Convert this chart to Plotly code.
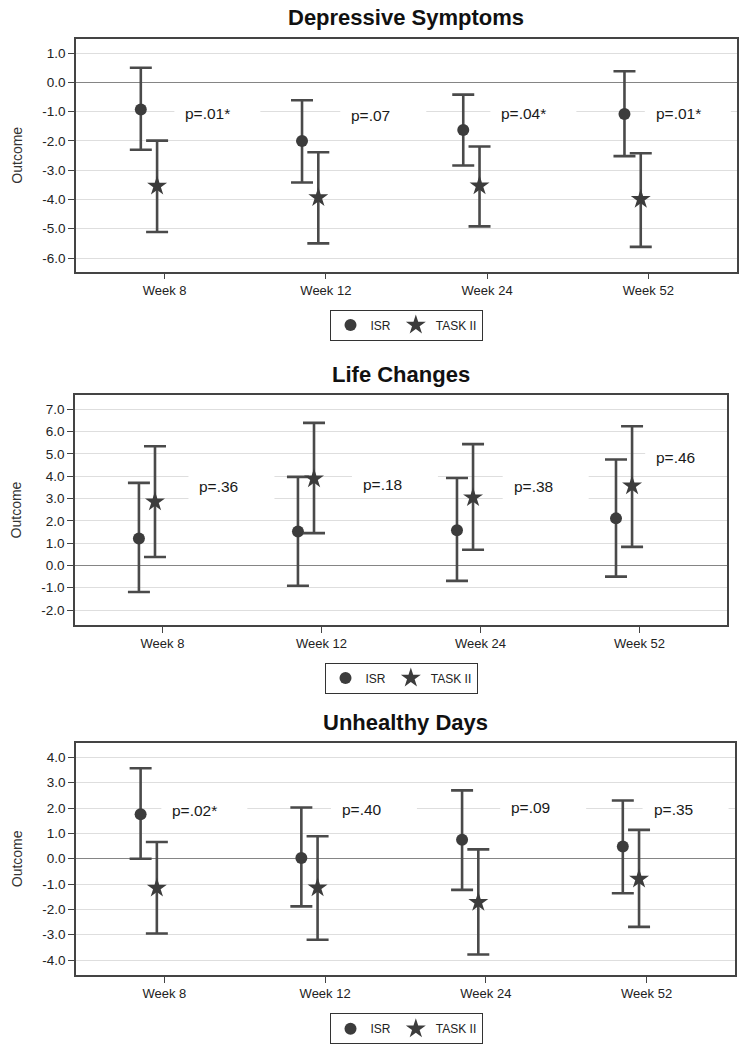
import plotly.graph_objects as go

# ---------------- data ----------------
weeks = ["Week 8", "Week 12", "Week 24", "Week 52"]
groups = ["ISR", "TASK II"]

dep_isr = [-0.93, -2.00, -1.63, -1.08]
dep_isr_lo = [-2.30, -3.42, -2.84, -2.52]
dep_isr_hi = [0.50, -0.61, -0.42, 0.38]
dep_task = [-3.54, -3.93, -3.53, -3.99]
dep_task_lo = [-5.11, -5.50, -4.92, -5.62]
dep_task_hi = [-1.99, -2.39, -2.19, -2.42]
dep_p = ["p=.01*", "p=.07", "p=.04*", "p=.01*"]

life_isr = [1.21, 1.52, 1.58, 2.11]
life_isr_lo = [-1.19, -0.91, -0.69, -0.50]
life_isr_hi = [3.70, 3.97, 3.92, 4.75]
life_task = [2.85, 3.89, 3.04, 3.57]
life_task_lo = [0.38, 1.45, 0.70, 0.83]
life_task_hi = [5.34, 6.39, 5.44, 6.24]
life_p = ["p=.36", "p=.18", "p=.38", "p=.46"]

unh_isr = [1.76, 0.03, 0.75, 0.48]
unh_isr_lo = [0.00, -1.88, -1.23, -1.36]
unh_isr_hi = [3.57, 2.02, 2.70, 2.30]
unh_task = [-1.16, -1.15, -1.72, -0.80]
unh_task_lo = [-2.95, -3.20, -3.78, -2.69]
unh_task_hi = [0.66, 0.89, 0.37, 1.14]
unh_p = ["p=.02*", "p=.40", "p=.09", "p=.35"]

titles = ["Depressive Symptoms", "Life Changes", "Unhealthy Days"]
dep_ticks = [1.0, 0.0, -1.0, -2.0, -3.0, -4.0, -5.0, -6.0]
life_ticks = [7.0, 6.0, 5.0, 4.0, 3.0, 2.0, 1.0, 0.0, -1.0, -2.0]
unh_ticks = [4.0, 3.0, 2.0, 1.0, 0.0, -1.0, -2.0, -3.0, -4.0]

# ---------------- layout config (positions / styles) ----------------
FONT = "Liberation Sans, Arial, sans-serif"
DARK = "#3c3c3c"
GRID = "#dedede"
AXIS = "#444444"
ISR_OFF = -0.148
TASK_OFF = -0.047

panels = [
    dict(isr=dep_isr, isr_lo=dep_isr_lo, isr_hi=dep_isr_hi,
         task=dep_task, task_lo=dep_task_lo, task_hi=dep_task_hi,
         p=dep_p, ticks=dep_ticks,
         xdom=[76 / 745, 737 / 745], ydom=[1 - 271.5 / 1050, 1 - 39 / 1050],
         yrange=[-6.46, 1.48], title_y=1 - 18 / 1050,
         lab_dx=[0.116, 0.145, 0.076, 0.034], lab_y=[-1.07, -1.12, -1.08, -1.05],
         leg_x=406 / 745, leg_y=1 - 325 / 1050),
    dict(isr=life_isr, isr_lo=life_isr_lo, isr_hi=life_isr_hi,
         task=life_task, task_lo=life_task_lo, task_hi=life_task_hi,
         p=life_p, ticks=life_ticks,
         xdom=[75 / 745, 727 / 745], ydom=[1 - 625 / 1050, 1 - 395 / 1050],
         yrange=[-2.67, 7.64], title_y=1 - 374 / 1050,
         lab_dx=[0.22, 0.248, 0.196, 0.092], lab_y=[3.53, 3.65, 3.56, 4.83],
         leg_x=401 / 745, leg_y=1 - 678 / 1050),
    dict(isr=unh_isr, isr_lo=unh_isr_lo, isr_hi=unh_isr_hi,
         task=unh_task, task_lo=unh_task_lo, task_hi=unh_task_hi,
         p=unh_p, ticks=unh_ticks,
         xdom=[76 / 745, 735 / 745], ydom=[1 - 975 / 1050, 1 - 742.7 / 1050],
         yrange=[-4.59, 4.58], title_y=1 - 722.7 / 1050,
         lab_dx=[0.037, 0.092, 0.145, 0.031], lab_y=[1.92, 1.95, 2.01, 1.96],
         leg_x=406 / 745, leg_y=1 - 1028.7 / 1050),
]

fig = go.Figure()
layout = {}
shapes = []
annotations = []
xpos = list(range(len(weeks)))

for i, pn in enumerate(panels):
    n = "" if i == 0 else str(i + 1)
    xa, ya = "x" + n, "y" + n
    leg = "legend" + n
    for name, vals, lo, hi, off, sym, size in [
        (groups[0], pn["isr"], pn["isr_lo"], pn["isr_hi"], ISR_OFF, "circle", 12),
        (groups[1], pn["task"], pn["task_lo"], pn["task_hi"], TASK_OFF, "star", 15),
    ]:
        fig.add_trace(go.Scatter(
            x=[p + off for p in xpos], y=vals, mode="markers", name=name,
            xaxis=xa, yaxis=ya, legend=leg,
            marker=dict(symbol=sym, size=size, color=DARK, line=dict(width=0)),
            error_y=dict(type="data", symmetric=False,
                         array=[h - v for h, v in zip(hi, vals)],
                         arrayminus=[v - l for v, l in zip(vals, lo)],
                         color="#4a4a4a", thickness=2.6, width=11),
            showlegend=True, hoverinfo="skip",
        ))
    layout["xaxis" + n] = dict(
        domain=pn["xdom"], anchor=ya, range=[-0.55, 3.55],
        tickvals=xpos, ticktext=weeks, showgrid=False, zeroline=False,
        ticks="outside", ticklen=6, tickcolor=AXIS, tickwidth=1,
        showline=True, linecolor=AXIS, linewidth=1.5, mirror=True,
        tickfont=dict(family=FONT, size=13, color="#222"),
    )
    layout["yaxis" + n] = dict(
        domain=pn["ydom"], anchor=xa, range=pn["yrange"],
        tickvals=pn["ticks"], ticktext=[f"{t:.1f}" for t in pn["ticks"]],
        showgrid=True, gridcolor=GRID, gridwidth=1,
        zeroline=True, zerolinecolor="#858585", zerolinewidth=1,
        ticks="outside", ticklen=6, tickcolor=AXIS, tickwidth=1,
        showline=True, linecolor=AXIS, linewidth=1.5, mirror=True,
        tickfont=dict(family=FONT, size=13.5, color="#222"),
        title=dict(text="Outcome", font=dict(family=FONT, size=14, color="#333"),
                   standoff=16),
    )
    layout[leg] = dict(
        orientation="h", x=pn["leg_x"], y=pn["leg_y"], xanchor="center",
        yanchor="middle", bgcolor="white", bordercolor="#333", borderwidth=1,
        font=dict(family=FONT, size=12, color="#222"), itemwidth=30,
        tracegroupgap=0,
    )
    annotations.append(dict(
        text="<b>" + titles[i] + "</b>", xref="paper", yref="paper",
        x=(pn["xdom"][0] + pn["xdom"][1]) / 2, y=pn["title_y"],
        xanchor="center", yanchor="middle", showarrow=False,
        font=dict(family=FONT, size=22, color="#111"),
    ))
    for k, txt in enumerate(pn["p"]):
        xs = xpos[k] + pn["lab_dx"][k]
        shapes.append(dict(
            type="rect", xref=xa, yref=ya, xsizemode="pixel", ysizemode="pixel",
            xanchor=xs, yanchor=pn["lab_y"][k], x0=-9, x1=77, y0=-13, y1=13,
            fillcolor="white", line=dict(width=0), layer="between",
        ))
        annotations.append(dict(
            text=txt, xref=xa, yref=ya, x=xs, y=pn["lab_y"][k],
            xanchor="left", yanchor="middle", showarrow=False,
            font=dict(family=FONT, size=15.5, color="#1a1a1a"),
        ))

fig.update_layout(
    width=745, height=1050, margin=dict(l=0, r=0, t=0, b=0),
    paper_bgcolor="white", plot_bgcolor="white", hovermode=False,
    shapes=shapes, annotations=annotations, **layout,
)

fig.write_html("out.html", config={"displayModeBar": False},
               post_script="document.body.style.margin='0';")
